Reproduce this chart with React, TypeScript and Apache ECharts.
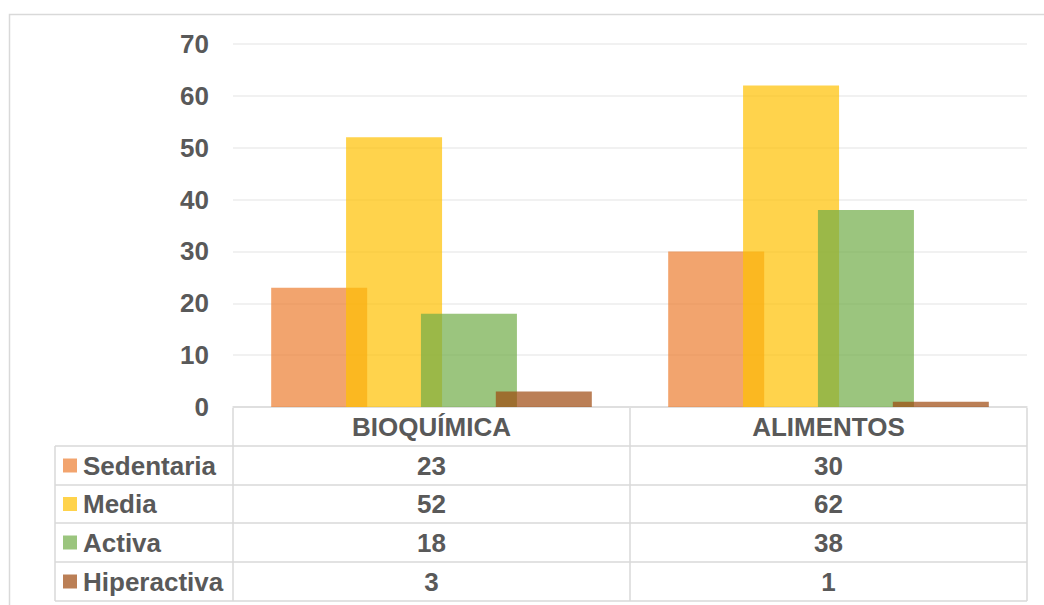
import React, { useEffect, useRef } from "react";
import * as echarts from "echarts";

// Categories, series and values
const categories = ["BIOQUÍMICA", "ALIMENTOS"];
const seriesNames = ["Sedentaria", "Media", "Activa", "Hiperactiva"];
const sedentaria = [23, 30];
const media = [52, 62];
const activa = [18, 38];
const hiperactiva = [3, 1];
const yTicks = [0, 10, 20, 30, 40, 50, 60, 70];

const seriesValues = [sedentaria, media, activa, hiperactiva];
const seriesColors = [
  "rgba(237,125,49,0.7)",
  "rgba(255,192,0,0.7)",
  "rgba(112,173,71,0.7)",
  "rgba(158,72,14,0.7)",
];

const FONT = "'Liberation Sans', Arial, sans-serif";
const TEXT_COLOR = "#595959";
const LINE_COLOR = "#D9D9D9";

export default function App() {
  const ref = useRef<HTMLDivElement>(null);

  useEffect(() => {
    if (!ref.current) return;
    const chart = echarts.init(ref.current, null, { renderer: "svg" });

    const gridLeft = 233;
    const gridRight = 17;
    const gridTop = 44;
    const axisY = 407;

    chart.setOption({
      animation: false,
      backgroundColor: "#ffffff",
      textStyle: { fontFamily: FONT },
      grid: {
        left: gridLeft,
        right: gridRight,
        top: gridTop,
        bottom: 605 - axisY,
        containLabel: false,
      },
      xAxis: {
        type: "category",
        data: categories,
        axisTick: { show: false },
        axisLine: { lineStyle: { color: LINE_COLOR, width: 1.5 } },
        axisLabel: {
          margin: 5,
          fontSize: 26,
          lineHeight: 30,
          fontWeight: "bold",
          color: TEXT_COLOR,
          fontFamily: FONT,
        },
      },
      yAxis: {
        type: "value",
        min: yTicks[0],
        max: yTicks[yTicks.length - 1],
        interval: yTicks[1] - yTicks[0],
        axisLine: { show: false },
        axisTick: { show: false },
        axisLabel: {
          margin: 24,
          fontSize: 26,
          fontWeight: "bold",
          color: TEXT_COLOR,
          fontFamily: FONT,
        },
        splitLine: { lineStyle: { color: "#EDEDED", width: 1.5 } },
      },
      series: seriesNames.map((name, i) => ({
        name,
        type: "bar",
        data: seriesValues[i],
        barWidth: 96,
        barGap: "-22%",
        itemStyle: { color: seriesColors[i] },
      })),
    });

    // Data table under the plot, aligned to the category bands
    const centers = categories.map(
      (c) => chart.convertToPixel({ xAxisIndex: 0 }, c) as number
    );
    const band = centers.length > 1 ? centers[1] - centers[0] : 397;
    const colEdges = [centers[0] - band / 2, ...centers.map((c) => c + band / 2)];
    const tableLeft = 55;
    const headerTop = axisY + 1;
    const rowTops = [446, 485, 523, 562, 601];
    const lineStyle = { stroke: LINE_COLOR, lineWidth: 1.5 };
    const right = colEdges[colEdges.length - 1];

    const elements: any[] = [];
    // outer chart border
    elements.push({
      type: "rect",
      shape: { x: 9.5, y: 14.5, width: 1200, height: 800 },
      style: { fill: "none", stroke: LINE_COLOR, lineWidth: 1.5 },
      silent: true,
    });
    // horizontal rules
    rowTops.forEach((y) => {
      elements.push({
        type: "line",
        shape: { x1: tableLeft, y1: y, x2: right, y2: y },
        style: lineStyle,
      });
    });
    // vertical rules
    elements.push({
      type: "line",
      shape: { x1: tableLeft, y1: rowTops[0], x2: tableLeft, y2: rowTops[rowTops.length - 1] },
      style: lineStyle,
    });
    colEdges.forEach((x) => {
      elements.push({
        type: "line",
        shape: { x1: x, y1: headerTop, x2: x, y2: rowTops[rowTops.length - 1] },
        style: lineStyle,
      });
    });
    // legend keys, names and values
    seriesNames.forEach((name, r) => {
      const cy = (rowTops[r] + rowTops[r + 1]) / 2;
      elements.push({
        type: "rect",
        shape: { x: 63, y: cy - 7, width: 14, height: 14 },
        style: { fill: seriesColors[r] },
      });
      elements.push({
        type: "text",
        x: 83,
        y: cy,
        style: {
          text: name,
          fill: TEXT_COLOR,
          font: `bold 26px ${FONT}`,
          align: "left",
          verticalAlign: "middle",
        },
      });
      seriesValues[r].forEach((v, c) => {
        elements.push({
          type: "text",
          x: centers[c],
          y: cy,
          style: {
            text: String(v),
            fill: TEXT_COLOR,
            font: `bold 26px ${FONT}`,
            align: "center",
            verticalAlign: "middle",
          },
        });
      });
    });

    chart.setOption({ graphic: { elements } });

    return () => chart.dispose();
  }, []);

  return (
    <div
      ref={ref}
      style={{ position: "fixed", left: 0, top: 0, width: 1044, height: 605 }}
    />
  );
}
